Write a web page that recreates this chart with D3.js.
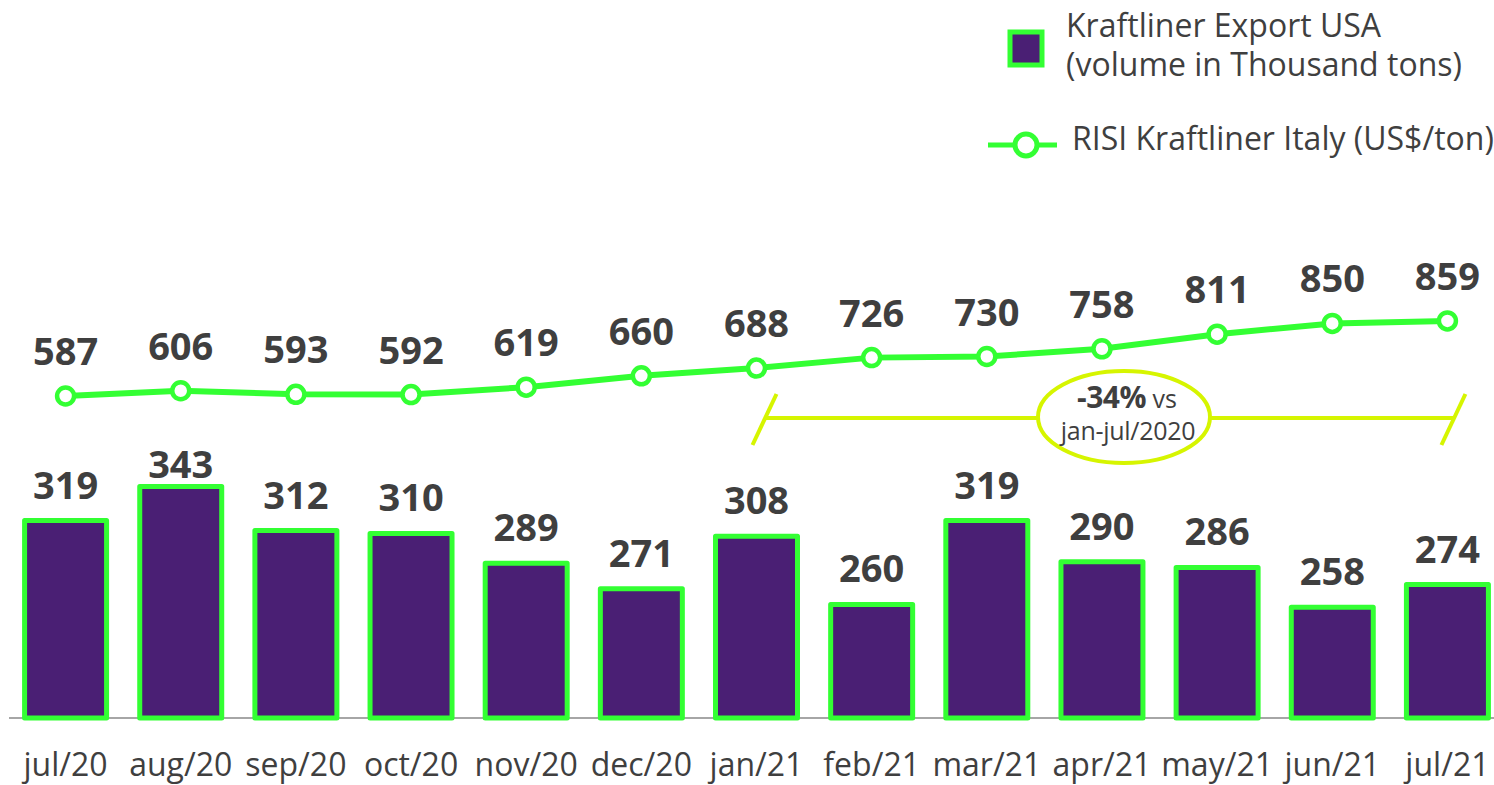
<!DOCTYPE html>
<meta charset="utf-8">
<style>
body, html {
  padding: 0;
  margin: 0;
  background: #fff;
}
text {
  font-family: "Open Sans", sans-serif;
  fill: #3f3f3f;
}
.val {
  font-weight: bold;
  font-size: 38px;
}
.cat {
  font-size: 32px;
}
.leg {
  font-size: 32px;
}
</style>
<body>
<script src="https://d3js.org/d3.v7.min.js"></script>
<script>

var months = ["jul/20", "aug/20", "sep/20", "oct/20", "nov/20", "dec/20", "jan/21",
              "feb/21", "mar/21", "apr/21", "may/21", "jun/21", "jul/21"]
var volume = [319, 343, 312, 310, 289, 271, 308, 260, 319, 290, 286, 258, 274]
var price = [587, 606, 593, 592, 619, 660, 688, 726, 730, 758, 811, 850, 859]
var legendLabels = ["Kraftliner Export USA", "(volume in Thousand tons)", "RISI Kraftliner Italy (US$/ton)"]
var noteBold = "-34%", noteRest = " vs", noteLine2 = "jan-jul/2020"

var width = 1494,
    height = 785,
    green = "#33ff33",
    purple = "#4a1f74",
    yellow = "#d6f500"

var svg = d3.select("body").append("svg")
    .attr("width", width)
    .attr("height", height)

var x = d3.scaleBand()
    .domain(months)
    .range([8, 1505])
    .paddingInner(0.288)
    .paddingOuter(0.144)

var yBar = d3.scaleLinear()
    .domain([180, 500])
    .range([718, 263.6])

var yLine = d3.scaleLinear()
    .domain([500, 900])
    .range([420, 309.6])

var cx = function (d) { return x(d) + x.bandwidth() / 2 }

// axis baseline
svg.append("line")
    .attr("x1", 9).attr("x2", width)
    .attr("y1", yBar(180)).attr("y2", yBar(180))
    .attr("stroke", "#a6a6a6")
    .attr("stroke-width", 2)

// bars
svg.selectAll(".bar")
    .data(volume)
    .enter().append("rect")
    .attr("class", "bar")
    .attr("x", function (d, i) { return x(months[i]) })
    .attr("y", function (d) { return yBar(d) })
    .attr("width", x.bandwidth())
    .attr("height", function (d) { return yBar(180) - yBar(d) })
    .attr("fill", purple)
    .attr("stroke", green)
    .attr("stroke-width", 5)
    .attr("stroke-linejoin", "round")

// bar labels, kept inside the bar area (top limit)
svg.selectAll(".barlab")
    .data(volume)
    .enter().append("text")
    .attr("class", "val")
    .attr("text-anchor", "middle")
    .attr("x", function (d, i) { return cx(months[i]) })
    .attr("y", function (d) { return Math.max(yBar(d) - 22, 478) })
    .text(function (d) { return d })

// category labels
svg.selectAll(".cat")
    .data(months)
    .enter().append("text")
    .attr("class", "cat")
    .attr("text-anchor", "middle")
    .attr("x", cx)
    .attr("y", 776)
    .text(function (d) { return d })

// price line
var line = d3.line()
    .x(function (d, i) { return cx(months[i]) })
    .y(function (d) { return yLine(d) })

svg.append("path")
    .datum(price)
    .attr("d", line)
    .attr("fill", "none")
    .attr("stroke", green)
    .attr("stroke-width", 6)

svg.selectAll(".pt")
    .data(price)
    .enter().append("circle")
    .attr("cx", function (d, i) { return cx(months[i]) })
    .attr("cy", function (d) { return yLine(d) })
    .attr("r", 8.5)
    .attr("fill", "#fff")
    .attr("stroke", green)
    .attr("stroke-width", 4.5)

svg.selectAll(".linelab")
    .data(price)
    .enter().append("text")
    .attr("class", "val")
    .attr("text-anchor", "middle")
    .attr("x", function (d, i) { return cx(months[i]) })
    .attr("y", function (d) { return yLine(d) - 31 })
    .text(function (d) { return d })

// annotation: jan/21 - jul/21 bracket
var ax0 = cx("jan/21") + 8, ax1 = cx("jul/21") + 6, ay = 418
var note = svg.append("g")
note.append("line")
    .attr("x1", ax0).attr("x2", ax1)
    .attr("y1", ay).attr("y2", ay)
    .attr("stroke", yellow).attr("stroke-width", 4)
;[ax0, ax1].forEach(function (p) {
  note.append("line")
      .attr("x1", p + 12).attr("y1", ay - 24)
      .attr("x2", p - 12).attr("y2", ay + 27)
      .attr("stroke", yellow).attr("stroke-width", 4)
})
note.append("ellipse")
    .attr("cx", 1124).attr("cy", 417)
    .attr("rx", 86).attr("ry", 46)
    .attr("fill", "#fff")
    .attr("stroke", yellow).attr("stroke-width", 4)
var t1 = note.append("text")
    .attr("text-anchor", "middle")
    .attr("x", 1127).attr("y", 408)
t1.append("tspan").attr("font-weight", "bold").attr("font-size", 30).attr("letter-spacing", -0.5).text(noteBold)
t1.append("tspan").attr("font-size", 25).text(noteRest)
note.append("text")
    .attr("text-anchor", "middle")
    .attr("x", 1128).attr("y", 440)
    .attr("font-size", 25)
    .attr("letter-spacing", -0.3)
    .text(noteLine2)

// legend
var leg = svg.append("g")
leg.append("rect")
    .attr("x", 1010).attr("y", 32)
    .attr("width", 32).attr("height", 33)
    .attr("fill", purple)
    .attr("stroke", green).attr("stroke-width", 5)
leg.append("text").attr("class", "leg").attr("x", 1066).attr("y", 37).text(legendLabels[0])
leg.append("text").attr("class", "leg").attr("x", 1066).attr("y", 76).text(legendLabels[1])
leg.append("line")
    .attr("x1", 988).attr("x2", 1057)
    .attr("y1", 145).attr("y2", 145)
    .attr("stroke", green).attr("stroke-width", 5)
leg.append("circle")
    .attr("cx", 1026).attr("cy", 145).attr("r", 11)
    .attr("fill", "#fff")
    .attr("stroke", green).attr("stroke-width", 5)
leg.append("text").attr("class", "leg").attr("x", 1072).attr("y", 150).text(legendLabels[2])

</script>
</body>
